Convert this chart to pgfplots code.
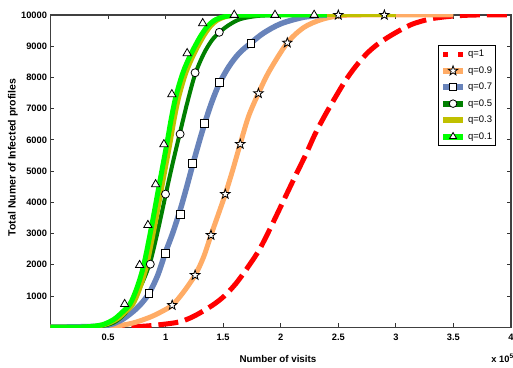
\documentclass[border=0pt]{standalone}
\usepackage{pgfplots}
\pgfplotsset{compat=1.18}
\usepackage{fontspec}
\setmainfont{Liberation Sans}
\definecolor{cRed}{RGB}{255,0,0}
\definecolor{cOrange}{RGB}{255,172,102}
\definecolor{cBlue}{RGB}{104,131,186}
\definecolor{cDGreen}{RGB}{0,128,0}
\definecolor{cOlive}{RGB}{192,192,0}
\definecolor{cGreen}{RGB}{0,255,0}
\pgfdeclareplotmark{pstar}{%
  \pgfpathmoveto{\pgfpointpolar{90}{\pgfplotmarksize}}%
  \pgfpathlineto{\pgfpointpolar{126}{0.4*\pgfplotmarksize}}%
  \pgfpathlineto{\pgfpointpolar{162}{\pgfplotmarksize}}%
  \pgfpathlineto{\pgfpointpolar{198}{0.4*\pgfplotmarksize}}%
  \pgfpathlineto{\pgfpointpolar{234}{\pgfplotmarksize}}%
  \pgfpathlineto{\pgfpointpolar{270}{0.4*\pgfplotmarksize}}%
  \pgfpathlineto{\pgfpointpolar{306}{\pgfplotmarksize}}%
  \pgfpathlineto{\pgfpointpolar{342}{0.4*\pgfplotmarksize}}%
  \pgfpathlineto{\pgfpointpolar{18}{\pgfplotmarksize}}%
  \pgfpathlineto{\pgfpointpolar{54}{0.4*\pgfplotmarksize}}%
  \pgfpathclose
  \pgfusepathqfillstroke}
\begin{document}
\begin{tikzpicture}
\path[use as bounding box] (-50.5pt,-39.8pt) rectangle (462.5pt,327.2pt);
\begin{axis}[
  at={(0,0)}, anchor=south west,
  scale only axis, width=460.5pt, height=312.2pt,
  xmin=0, xmax=4, ymin=0, ymax=10000,
  xtick={0.5,1,1.5,2,2.5,3,3.5,4},
  ytick={1000,2000,3000,4000,5000,6000,7000,8000,9000,10000},
  scaled ticks=false,
  /pgf/number format/1000 sep={},
  /pgf/number format/assume math mode=true,
  tick align=inside, major tick length=4pt,
  tick style={black!80, line width=0.8pt},
  axis line style={black!75, line width=1.2pt},
  ticklabel style={font=\fontsize{9.3}{10}\selectfont\bfseries},
  xticklabel style={yshift=-3pt},
  xlabel={Number of visits},
  xlabel style={at={(axis description cs:0.494,-0.1121)}, anchor=base, font=\fontsize{9.8}{11}\selectfont\bfseries},
  ylabel={Total Numer of Infected profiles},
  ylabel style={at={(axis description cs:-0.0814,0.5436)}, anchor=center, font=\fontsize{10.5}{12}\selectfont\bfseries},
  clip mode=individual,
  legend style={at={(0.9674,0.904)}, anchor=north east, draw=black, line width=0.8pt,
    font=\fontsize{9.5}{10}\selectfont, inner xsep=1.5pt, inner ysep=3pt, row sep=4.3pt, cells={anchor=west}},
  legend image code/.code={\draw[mark repeat=2,mark phase=2,#1] plot coordinates {(0pt,0pt) (10pt,0pt) (20pt,0pt)};},
]
% ---- lines ----
\addplot[cRed, line width=5pt, dash pattern=on 20pt off 7pt, smooth, tension=0.5, forget plot] coordinates {
(0,0)(0.6,5)(0.8,30)(0.95,80)(1.12,170)(1.25,360)(1.408,705)(1.51,1000)(1.611,1400)(1.71,1900)(1.812,2470)(1.9,3100)(1.985,3750)(2.06,4330)(2.13,4870)(2.22,5550)(2.3,6200)(2.389,6820)(2.48,7400)(2.562,7900)(2.65,8350)(2.749,8770)(2.84,9060)(2.937,9300)(3.04,9520)(3.138,9700)(3.24,9820)(3.34,9900)(3.51,9970)(3.7,10000)(4.0,10000)};
\addplot[cOrange, line width=5pt, smooth, tension=0.5, forget plot] coordinates {
(0,0)(0.5,20)(0.7,120)(0.85,300)(0.95,470)(1.057,705)(1.15,1100)(1.256,1670)(1.33,2250)(1.394,2950)(1.46,3640)(1.518,4260)(1.58,5000)(1.648,5870)(1.72,6750)(1.806,7490)(1.9,8200)(2.057,9110)(2.2,9600)(2.35,9850)(2.5,9970)(2.7,10000)(3.5,10000)};
\addplot[cBlue, line width=5.5pt, smooth, tension=0.5, forget plot] coordinates {
(0,0)(0.45,40)(0.6,200)(0.7,450)(0.78,720)(0.855,1080)(0.93,1650)(0.999,2400)(1.06,3000)(1.126,3750)(1.18,4450)(1.235,5200)(1.29,5920)(1.337,6500)(1.40,7200)(1.466,7800)(1.55,8350)(1.64,8780)(1.74,9100)(1.85,9420)(2.0,9720)(2.2,9930)(2.4,10000)};
\addplot[cDGreen, line width=4pt, smooth, tension=0.5, forget plot] coordinates {
(0,0)(0.4,20)(0.55,150)(0.65,450)(0.72,900)(0.80,1450)(0.867,2100)(0.93,3050)(0.999,4220)(1.06,5230)(1.126,6250)(1.19,7220)(1.256,8100)(1.33,8750)(1.40,9180)(1.466,9440)(1.55,9680)(1.65,9870)(1.8,9970)(2.0,10000)};
\addplot[cOlive, line width=4pt, smooth, tension=0.5, forget plot] coordinates {
(0,0)(0.35,10)(0.48,80)(0.58,250)(0.65,470)(0.72,740)(0.78,1250)(0.84,1990)(0.91,3270)(0.975,4570)(1.04,5860)(1.08,6700)(1.12,7400)(1.18,8150)(1.25,8750)(1.33,9300)(1.39,9620)(1.45,9820)(1.53,9940)(1.63,9990)(1.8,10000)(3.0,10000)};
\addplot[cGreen, line width=5pt, smooth, tension=0.5, forget plot] coordinates {
(0,0)(0.3,10)(0.45,80)(0.55,250)(0.62,470)(0.69,740)(0.75,1250)(0.81,1990)(0.88,3270)(0.945,4570)(1.01,5860)(1.05,6700)(1.09,7400)(1.15,8150)(1.22,8750)(1.30,9300)(1.36,9620)(1.42,9820)(1.5,9940)(1.6,9990)(1.75,10000)(2.4,10000)};
% ---- markers ----
\addplot[only marks, mark=pstar, mark size=5pt, mark options={draw=black, fill=white, line width=0.8pt}, forget plot] coordinates {
(1.057,705)(1.256,1667)(1.394,2949)(1.518,4263)(1.648,5865)(1.806,7490)(2.057,9112)(2.50,10000)(2.90,10000)};
\addplot[only marks, mark=square*, mark size=3.8pt, mark options={draw=black, fill=white, line width=0.8pt}, forget plot] coordinates {
(0.855,1080)(0.999,2362)(1.126,3612)(1.235,5247)(1.337,6529)(1.466,7843)(1.740,9093)};
\addplot[only marks, mark=*, mark size=4pt, mark options={draw=black, fill=white, line width=0.8pt}, forget plot] coordinates {
(0.867,2019)(0.999,4263)(1.126,6186)(1.256,8151)(1.466,9446)};
\addplot[only marks, mark=triangle*, mark size=4.8pt, mark options={draw=black, fill=white, line width=0.8pt}, forget plot] coordinates {
(0.644,737)(0.774,1987)(0.846,3269)(0.913,4574)(0.985,5856)(1.054,7458)(1.187,8772)(1.322,9734)(1.596,10000)(1.95,10000)(2.29,10000)};
% ---- legend ----
\addlegendimage{cRed, line width=5pt, dash pattern=on 5pt off 10pt on 7pt}
\addlegendentry{q=1}
\addlegendimage{cOrange, line width=6pt, mark=pstar, mark size=5pt, mark options={draw=black, fill=white, line width=0.8pt, solid}}
\addlegendentry{q=0.9}
\addlegendimage{cBlue, line width=6pt, mark=square*, mark size=3.5pt, mark options={draw=black, fill=white, line width=0.8pt, solid}}
\addlegendentry{q=0.7}
\addlegendimage{cDGreen, line width=6pt, mark=*, mark size=3.8pt, mark options={draw=black, fill=white, line width=0.8pt, solid}}
\addlegendentry{q=0.5}
\addlegendimage{cOlive, line width=6pt}
\addlegendentry{q=0.3}
\addlegendimage{cGreen, line width=6pt, mark=triangle*, mark size=4pt, mark options={draw=black, fill=white, line width=0.8pt, solid}}
\addlegendentry{q=0.1}
\node[anchor=base west, font=\fontsize{9.3}{10}\selectfont\bfseries] at (axis description cs:0.9498,-0.1121) {x 10\textsuperscript{5}};
\end{axis}
\end{tikzpicture}
\end{document}
